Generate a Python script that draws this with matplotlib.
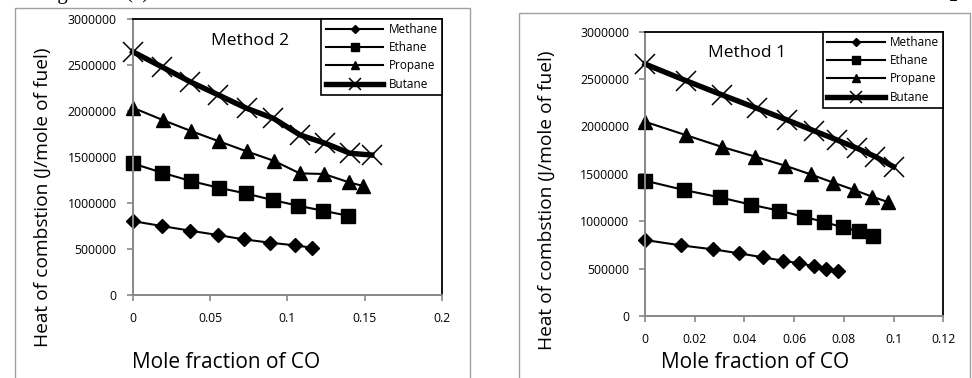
import matplotlib
matplotlib.use("Agg")
import matplotlib.pyplot as plt
from matplotlib.patches import Rectangle

plt.rcParams['font.family'] = ['Open Sans', 'DejaVu Sans']

# ---------------- data ----------------
series_names = ["Methane", "Ethane", "Propane", "Butane"]

# Method 2 (left panel)
m2_methane_x = [0, 0.019, 0.037, 0.055, 0.072, 0.089, 0.105, 0.116]
m2_methane_y = [800000, 746000, 696000, 649000, 601000, 565000, 536000, 511000]
m2_ethane_x = [0, 0.019, 0.0375, 0.0555, 0.073, 0.0905, 0.107, 0.123, 0.139]
m2_ethane_y = [1427000, 1326000, 1236000, 1163000, 1101000, 1029000, 967000, 913000, 859000]
m2_propane_x = [0, 0.0194, 0.0377, 0.0558, 0.0737, 0.0912, 0.108, 0.1237, 0.1399, 0.1491]
m2_propane_y = [2033000, 1899000, 1779000, 1667000, 1558000, 1456000, 1319000, 1312000, 1221000, 1181000]
m2_butane_x = [0, 0.0187, 0.0371, 0.0554, 0.0737, 0.091, 0.1082, 0.1244, 0.1406, 0.1546]
m2_butane_y = [2641000, 2478000, 2315000, 2171000, 2026000, 1917000, 1736000, 1646000, 1537000, 1518000]

# Method 1 (right panel)
m1_methane_x = [0, 0.0145, 0.0275, 0.038, 0.0474, 0.0554, 0.062, 0.0678, 0.0729, 0.0776]
m1_methane_y = [802000, 745000, 703000, 661000, 619000, 584000, 556000, 527000, 499000, 471000]
m1_ethane_x = [0, 0.0158, 0.0301, 0.0428, 0.054, 0.0638, 0.0721, 0.0796, 0.0861, 0.0919]
m1_ethane_y = [1428000, 1329000, 1252000, 1174000, 1111000, 1048000, 992000, 935000, 893000, 844000]
m1_propane_x = [0, 0.0164, 0.0311, 0.0444, 0.0564, 0.0667, 0.0758, 0.0842, 0.0914, 0.0977]
m1_propane_y = [2050000, 1909000, 1783000, 1681000, 1586000, 1494000, 1407000, 1329000, 1259000, 1203000]
m1_butane_x = [0, 0.0165, 0.0311, 0.0451, 0.0572, 0.0679, 0.0773, 0.0854, 0.0927, 0.1]
m1_butane_y = [2659000, 2483000, 2332000, 2191000, 2068000, 1955000, 1857000, 1769000, 1681000, 1575000]

y_ticks = [0, 500000, 1000000, 1500000, 2000000, 2500000, 3000000]
y_ticklabels = ["0", "500000", "1000000", "1500000", "2000000", "2500000", "3000000"]
m2_x_ticks = [0, 0.05, 0.1, 0.15, 0.2]
m2_x_ticklabels = ["0", "0.05", "0.1", "0.15", "0.2"]
m1_x_ticks = [0, 0.02, 0.04, 0.06, 0.08, 0.1, 0.12]
m1_x_ticklabels = ["0", "0.02", "0.04", "0.06", "0.08", "0.1", "0.12"]

caption_words = ["Figure", "(4)", "Heat", "of", "combustion", "variation", "with",
                 "mole", "fraction", "of", "CO", "in", "CO$_2$"]

# ---------------- figure ----------------
W, H = 972, 378
fig = plt.figure(figsize=(W / 100, H / 100), dpi=100)


def fx(px):
    return px / W


def fy(py):
    return 1 - py / H


# outer frames of the two embedded charts
fig.patches.append(Rectangle((fx(15), fy(420)), fx(470 - 15), (420 - 8) / H,
                             transform=fig.transFigure, fill=False,
                             edgecolor='#a0a0a0', lw=1.0))
fig.patches.append(Rectangle((fx(519), fy(420)), fx(970 - 519), (420 - 13) / H,
                             transform=fig.transFigure, fill=False,
                             edgecolor='#a0a0a0', lw=1.0))

styles = [
    dict(marker='D', ms=7.4, lw=1.5, color='black'),
    dict(marker='s', ms=10.5, lw=1.5, color='black'),
    dict(marker='^', ms=10.5, lw=1.5, color='black'),
    dict(marker='x', ms=15, mew=1.1, lw=3.9, color='black'),
]


def make_panel(rect_px, xs, ys, xt, xtl, xmax, method_text, method_pos,
               ylab_pos, xlab_pos):
    l, t, r, b = rect_px
    ax = fig.add_axes([fx(l), fy(b), fx(r - l), (b - t) / H])
    for name, x, y, st in zip(series_names, xs, ys, styles):
        ax.plot(x, y, label=name, clip_on=False, **st)
    ax.set_xlim(0, xmax)
    ax.set_ylim(0, 3000000)
    ax.set_xticks(xt)
    ax.set_xticklabels(xtl)
    ax.set_yticks(y_ticks)
    ax.set_yticklabels(y_ticklabels)
    for s in ['left', 'bottom']:
        ax.spines[s].set_color('#878787')
        ax.spines[s].set_linewidth(1.4)
    for s in ['top', 'right']:
        ax.spines[s].set_color('black')
        ax.spines[s].set_linewidth(1.3)
    ax.tick_params(axis='both', direction='out', color='#878787', length=4,
                   width=1.2, labelsize=8.8, labelcolor='black')
    ax.tick_params(axis='y', pad=7.5)
    ax.tick_params(axis='x', pad=8.5)
    leg = ax.legend(loc='upper right', bbox_to_anchor=(1, 1), borderaxespad=0,
                    fancybox=False, edgecolor='black', framealpha=1,
                    fontsize=8.5, handlelength=4.9, handletextpad=0.45,
                    labelspacing=0.45, borderpad=0.35, markerscale=0.55)
    leg.get_frame().set_linewidth(1.2)
    fig.text(fx(method_pos[0]), fy(method_pos[1]), method_text, ha='center',
             va='center', fontsize=12.5)
    fig.text(fx(ylab_pos[0]), fy(ylab_pos[1]), "Heat of combstion (J/mole of fuel)",
             rotation=90, ha='center', va='center', fontsize=13.8)
    fig.text(fx(xlab_pos[0]), fy(xlab_pos[1]), "Mole fraction of CO",
             ha='center', va='center', fontsize=15)
    return ax


make_panel((132.7, 18.7, 442, 294.7),
           [m2_methane_x, m2_ethane_x, m2_propane_x, m2_butane_x],
           [m2_methane_y, m2_ethane_y, m2_propane_y, m2_butane_y],
           m2_x_ticks, m2_x_ticklabels, 0.2, "Method 2", (250, 41),
           (43, 197), (226, 362))

make_panel((645, 31.7, 943.3, 316),
           [m1_methane_x, m1_ethane_x, m1_propane_x, m1_butane_x],
           [m1_methane_y, m1_ethane_y, m1_propane_y, m1_butane_y],
           m1_x_ticks, m1_x_ticklabels, 0.12, "Method 1", (747, 53),
           (547, 200), (755, 362))

# caption (cropped at the top of the image), justified between x=40 and x=958
fig.canvas.draw()
renderer = fig.canvas.get_renderer()
texts = []
widths = []
for w in caption_words:
    t = fig.text(0, fy(-1.5), w, fontsize=15, family='Liberation Serif',
                 va='baseline', ha='left')
    texts.append(t)
    widths.append(t.get_window_extent(renderer).width)
x0, x1 = 40, 958
gap = (x1 - x0 - sum(widths)) / (len(caption_words) - 1)
pos = x0
for t, wdt in zip(texts, widths):
    t.set_x(fx(pos))
    pos += wdt + gap

fig.savefig("out.png", dpi=100)
